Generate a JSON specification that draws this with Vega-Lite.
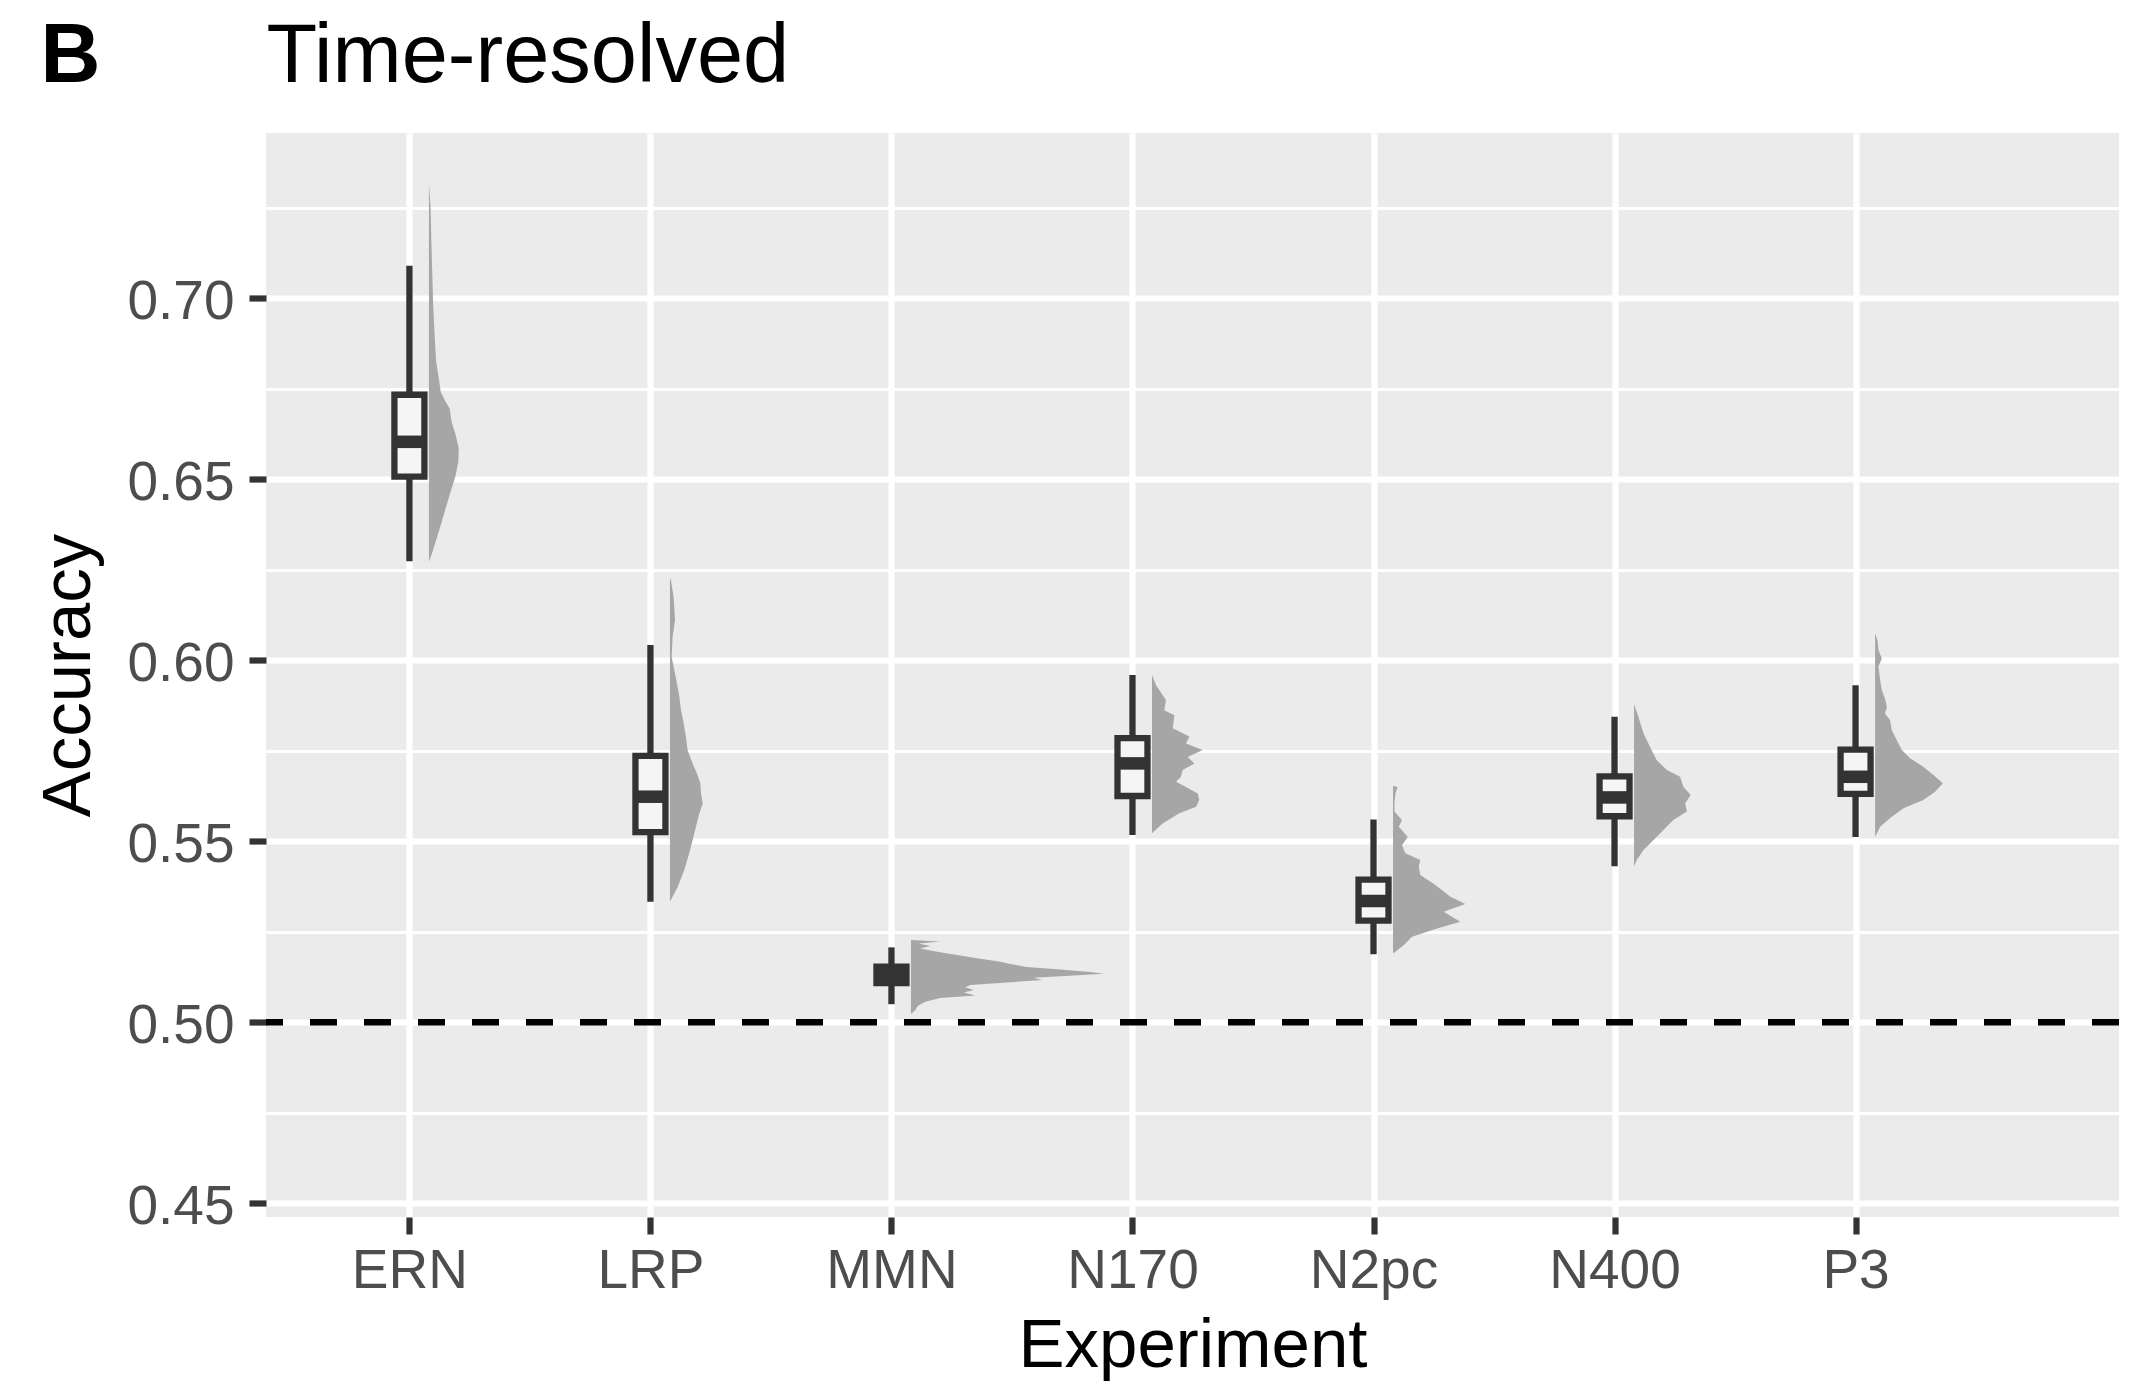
{
  "$schema": "https://vega.github.io/schema/vega-lite/v6.json",
  "width": 1853,
  "height": 1084,
  "autosize": {"type": "none"},
  "padding": {"left": 266, "top": 133, "right": 22, "bottom": 167},
  "background": "#FFFFFF",
  "config": {
    "font": "Liberation Sans",
    "view": {"fill": "#EBEBEB", "stroke": null},
    "axis": {
      "domain": false,
      "labelFlush": false,
      "labelOverlap": false,
      "labelBound": false,
      "labelColor": "#4D4D4D",
      "tickColor": "#333333",
      "titleColor": "#000000",
      "titleFontWeight": "normal"
    }
  },
  "datasets": {
    "boxes": [
      {"exp": "ERN", "lower": 0.6273, "q1": 0.6507, "median": 0.6603, "q3": 0.6733, "upper": 0.7089},
      {"exp": "LRP", "lower": 0.5333, "q1": 0.5525, "median": 0.5623, "q3": 0.5736, "upper": 0.6042},
      {"exp": "MMN", "lower": 0.5050, "q1": 0.5108, "median": 0.5132, "q3": 0.5154, "upper": 0.5207},
      {"exp": "N170", "lower": 0.5517, "q1": 0.5625, "median": 0.5715, "q3": 0.5785, "upper": 0.5959},
      {"exp": "N2pc", "lower": 0.5188, "q1": 0.5281, "median": 0.5335, "q3": 0.5394, "upper": 0.5560},
      {"exp": "N400", "lower": 0.5431, "q1": 0.5569, "median": 0.5621, "q3": 0.5679, "upper": 0.5844},
      {"exp": "P3", "lower": 0.5512, "q1": 0.5631, "median": 0.5678, "q3": 0.5753, "upper": 0.5931}
    ],
    "violins": [
      {"exp": "ERN", "acc": 0.7317, "density": 0},
      {"exp": "ERN", "acc": 0.7248, "density": 0.007},
      {"exp": "ERN", "acc": 0.7156, "density": 0.010},
      {"exp": "ERN", "acc": 0.7064, "density": 0.014},
      {"exp": "ERN", "acc": 0.6972, "density": 0.018},
      {"exp": "ERN", "acc": 0.6879, "density": 0.025},
      {"exp": "ERN", "acc": 0.6824, "density": 0.030},
      {"exp": "ERN", "acc": 0.6787, "density": 0.039},
      {"exp": "ERN", "acc": 0.6741, "density": 0.049},
      {"exp": "ERN", "acc": 0.6714, "density": 0.069},
      {"exp": "ERN", "acc": 0.6695, "density": 0.086},
      {"exp": "ERN", "acc": 0.6658, "density": 0.094},
      {"exp": "ERN", "acc": 0.6622, "density": 0.111},
      {"exp": "ERN", "acc": 0.6585, "density": 0.124},
      {"exp": "ERN", "acc": 0.6548, "density": 0.122},
      {"exp": "ERN", "acc": 0.6511, "density": 0.111},
      {"exp": "ERN", "acc": 0.6465, "density": 0.090},
      {"exp": "ERN", "acc": 0.6419, "density": 0.069},
      {"exp": "ERN", "acc": 0.6373, "density": 0.049},
      {"exp": "ERN", "acc": 0.6327, "density": 0.028},
      {"exp": "ERN", "acc": 0.6290, "density": 0.010},
      {"exp": "ERN", "acc": 0.6272, "density": 0},

      {"exp": "LRP", "acc": 0.6226, "density": 0},
      {"exp": "LRP", "acc": 0.6221, "density": 0.004},
      {"exp": "LRP", "acc": 0.6175, "density": 0.015},
      {"exp": "LRP", "acc": 0.6111, "density": 0.021},
      {"exp": "LRP", "acc": 0.6065, "density": 0.011},
      {"exp": "LRP", "acc": 0.6009, "density": 0.007},
      {"exp": "LRP", "acc": 0.5973, "density": 0.018},
      {"exp": "LRP", "acc": 0.5936, "density": 0.029},
      {"exp": "LRP", "acc": 0.5899, "density": 0.039},
      {"exp": "LRP", "acc": 0.5862, "density": 0.046},
      {"exp": "LRP", "acc": 0.5826, "density": 0.057},
      {"exp": "LRP", "acc": 0.5789, "density": 0.066},
      {"exp": "LRP", "acc": 0.5752, "density": 0.073},
      {"exp": "LRP", "acc": 0.5715, "density": 0.094},
      {"exp": "LRP", "acc": 0.5687, "density": 0.112},
      {"exp": "LRP", "acc": 0.5660, "density": 0.126},
      {"exp": "LRP", "acc": 0.5632, "density": 0.129},
      {"exp": "LRP", "acc": 0.5605, "density": 0.136},
      {"exp": "LRP", "acc": 0.5577, "density": 0.122},
      {"exp": "LRP", "acc": 0.5540, "density": 0.108},
      {"exp": "LRP", "acc": 0.5503, "density": 0.094},
      {"exp": "LRP", "acc": 0.5467, "density": 0.080},
      {"exp": "LRP", "acc": 0.5420, "density": 0.059},
      {"exp": "LRP", "acc": 0.5374, "density": 0.032},
      {"exp": "LRP", "acc": 0.5333, "density": 0},

      {"exp": "MMN", "acc": 0.5227, "density": 0},
      {"exp": "MMN", "acc": 0.5223, "density": 0.122},
      {"exp": "MMN", "acc": 0.5218, "density": 0.032},
      {"exp": "MMN", "acc": 0.5211, "density": 0.080},
      {"exp": "MMN", "acc": 0.5204, "density": 0.039},
      {"exp": "MMN", "acc": 0.5195, "density": 0.108},
      {"exp": "MMN", "acc": 0.5186, "density": 0.191},
      {"exp": "MMN", "acc": 0.5177, "density": 0.274},
      {"exp": "MMN", "acc": 0.5167, "density": 0.371},
      {"exp": "MMN", "acc": 0.5161, "density": 0.412},
      {"exp": "MMN", "acc": 0.5153, "density": 0.481},
      {"exp": "MMN", "acc": 0.5146, "density": 0.620},
      {"exp": "MMN", "acc": 0.5139, "density": 0.744},
      {"exp": "MMN", "acc": 0.5134, "density": 0.800},
      {"exp": "MMN", "acc": 0.5129, "density": 0.675},
      {"exp": "MMN", "acc": 0.5123, "density": 0.509},
      {"exp": "MMN", "acc": 0.5117, "density": 0.544},
      {"exp": "MMN", "acc": 0.5110, "density": 0.398},
      {"exp": "MMN", "acc": 0.5103, "density": 0.246},
      {"exp": "MMN", "acc": 0.5097, "density": 0.225},
      {"exp": "MMN", "acc": 0.5089, "density": 0.260},
      {"exp": "MMN", "acc": 0.5082, "density": 0.219},
      {"exp": "MMN", "acc": 0.5074, "density": 0.267},
      {"exp": "MMN", "acc": 0.5067, "density": 0.122},
      {"exp": "MMN", "acc": 0.5057, "density": 0.059},
      {"exp": "MMN", "acc": 0.5045, "density": 0.028},
      {"exp": "MMN", "acc": 0.5034, "density": 0.018},
      {"exp": "MMN", "acc": 0.5023, "density": 0},

      {"exp": "N170", "acc": 0.5959, "density": 0},
      {"exp": "N170", "acc": 0.5931, "density": 0.017},
      {"exp": "N170", "acc": 0.5890, "density": 0.058},
      {"exp": "N170", "acc": 0.5862, "density": 0.051},
      {"exp": "N170", "acc": 0.5848, "density": 0.093},
      {"exp": "N170", "acc": 0.5812, "density": 0.086},
      {"exp": "N170", "acc": 0.5789, "density": 0.155},
      {"exp": "N170", "acc": 0.5770, "density": 0.141},
      {"exp": "N170", "acc": 0.5752, "density": 0.210},
      {"exp": "N170", "acc": 0.5733, "density": 0.148},
      {"exp": "N170", "acc": 0.5715, "density": 0.176},
      {"exp": "N170", "acc": 0.5697, "density": 0.127},
      {"exp": "N170", "acc": 0.5678, "density": 0.120},
      {"exp": "N170", "acc": 0.5664, "density": 0.100},
      {"exp": "N170", "acc": 0.5650, "density": 0.141},
      {"exp": "N170", "acc": 0.5632, "density": 0.190},
      {"exp": "N170", "acc": 0.5614, "density": 0.196},
      {"exp": "N170", "acc": 0.5595, "density": 0.183},
      {"exp": "N170", "acc": 0.5577, "density": 0.113},
      {"exp": "N170", "acc": 0.5549, "density": 0.044},
      {"exp": "N170", "acc": 0.5522, "density": 0},

      {"exp": "N2pc", "acc": 0.5653, "density": 0},
      {"exp": "N2pc", "acc": 0.5650, "density": 0.019},
      {"exp": "N2pc", "acc": 0.5632, "density": 0.010},
      {"exp": "N2pc", "acc": 0.5605, "density": 0.006},
      {"exp": "N2pc", "acc": 0.5582, "density": 0.006},
      {"exp": "N2pc", "acc": 0.5559, "density": 0.037},
      {"exp": "N2pc", "acc": 0.5540, "density": 0.024},
      {"exp": "N2pc", "acc": 0.5512, "density": 0.061},
      {"exp": "N2pc", "acc": 0.5489, "density": 0.037},
      {"exp": "N2pc", "acc": 0.5467, "density": 0.051},
      {"exp": "N2pc", "acc": 0.5448, "density": 0.113},
      {"exp": "N2pc", "acc": 0.5430, "density": 0.107},
      {"exp": "N2pc", "acc": 0.5407, "density": 0.113},
      {"exp": "N2pc", "acc": 0.5379, "density": 0.176},
      {"exp": "N2pc", "acc": 0.5347, "density": 0.238},
      {"exp": "N2pc", "acc": 0.5327, "density": 0.300},
      {"exp": "N2pc", "acc": 0.5305, "density": 0.210},
      {"exp": "N2pc", "acc": 0.5278, "density": 0.279},
      {"exp": "N2pc", "acc": 0.5259, "density": 0.183},
      {"exp": "N2pc", "acc": 0.5236, "density": 0.079},
      {"exp": "N2pc", "acc": 0.5213, "density": 0.044},
      {"exp": "N2pc", "acc": 0.5190, "density": 0},

      {"exp": "N400", "acc": 0.5878, "density": 0},
      {"exp": "N400", "acc": 0.5844, "density": 0.018},
      {"exp": "N400", "acc": 0.5798, "density": 0.039},
      {"exp": "N400", "acc": 0.5761, "density": 0.066},
      {"exp": "N400", "acc": 0.5724, "density": 0.094},
      {"exp": "N400", "acc": 0.5697, "density": 0.136},
      {"exp": "N400", "acc": 0.5678, "density": 0.191},
      {"exp": "N400", "acc": 0.5650, "density": 0.205},
      {"exp": "N400", "acc": 0.5628, "density": 0.235},
      {"exp": "N400", "acc": 0.5605, "density": 0.212},
      {"exp": "N400", "acc": 0.5582, "density": 0.219},
      {"exp": "N400", "acc": 0.5559, "density": 0.163},
      {"exp": "N400", "acc": 0.5531, "density": 0.122},
      {"exp": "N400", "acc": 0.5503, "density": 0.080},
      {"exp": "N400", "acc": 0.5476, "density": 0.039},
      {"exp": "N400", "acc": 0.5448, "density": 0.011},
      {"exp": "N400", "acc": 0.5430, "density": 0},

      {"exp": "P3", "acc": 0.6074, "density": 0},
      {"exp": "P3", "acc": 0.6056, "density": 0.010},
      {"exp": "P3", "acc": 0.6028, "density": 0.014},
      {"exp": "P3", "acc": 0.6005, "density": 0.028},
      {"exp": "P3", "acc": 0.5982, "density": 0.014},
      {"exp": "P3", "acc": 0.5945, "density": 0.021},
      {"exp": "P3", "acc": 0.5917, "density": 0.028},
      {"exp": "P3", "acc": 0.5894, "density": 0.041},
      {"exp": "P3", "acc": 0.5871, "density": 0.049},
      {"exp": "P3", "acc": 0.5853, "density": 0.041},
      {"exp": "P3", "acc": 0.5835, "density": 0.062},
      {"exp": "P3", "acc": 0.5807, "density": 0.069},
      {"exp": "P3", "acc": 0.5779, "density": 0.090},
      {"exp": "P3", "acc": 0.5752, "density": 0.111},
      {"exp": "P3", "acc": 0.5729, "density": 0.145},
      {"exp": "P3", "acc": 0.5706, "density": 0.200},
      {"exp": "P3", "acc": 0.5683, "density": 0.242},
      {"exp": "P3", "acc": 0.5660, "density": 0.281},
      {"exp": "P3", "acc": 0.5637, "density": 0.249},
      {"exp": "P3", "acc": 0.5614, "density": 0.200},
      {"exp": "P3", "acc": 0.5591, "density": 0.118},
      {"exp": "P3", "acc": 0.5568, "density": 0.069},
      {"exp": "P3", "acc": 0.5540, "density": 0.021},
      {"exp": "P3", "acc": 0.5512, "density": 0}
    ]
  },
  "layer": [
    {
      "layer": [
        {
          "data": {"values": [{}]},
          "mark": {"type": "rule", "color": "#000000", "strokeWidth": 6.5, "strokeDash": [27, 27]},
          "encoding": {
            "y": {"datum": 0.5, "type": "quantitative", "title": "Accuracy",
                  "scale": {"domain": [0.44624, 0.74558], "nice": false, "zero": false}}
          }
        },
        {
          "data": {"name": "violins"},
          "transform": [
            {"calculate": "indexof(['ERN','LRP','MMN','N170','N2pc','N400','P3'], datum.exp) + 1", "as": "pos"},
            {"calculate": "datum.pos + 0.081", "as": "xl"},
            {"calculate": "datum.pos + 0.081 + datum.density", "as": "xr"}
          ],
          "mark": {"type": "area", "orient": "horizontal", "color": "#A6A6A6", "opacity": 1},
          "encoding": {
            "y": {
              "field": "acc", "type": "quantitative", "title": "Accuracy",
              "scale": {"domain": [0.44624, 0.74558], "nice": false, "zero": false},
              "axis": {
                "orient": "left",
                "values": [0.45, 0.475, 0.5, 0.525, 0.55, 0.575, 0.6, 0.625, 0.65, 0.675, 0.7, 0.725],
                "labelExpr": "round(datum.value * 1000) % 50 === 0 ? format(datum.value, '.2f') : ''",
                "grid": true,
                "gridColor": "#FFFFFF",
                "gridOpacity": 1,
                "gridWidth": {"condition": {"test": "round(datum.value * 1000) % 50 === 0", "value": 6.2}, "value": 3.1},
                "ticks": true,
                "tickSize": 17,
                "tickWidth": 6.2,
                "tickOpacity": {"condition": {"test": "round(datum.value * 1000) % 50 === 0", "value": 1}, "value": 0},
                "labelFontSize": 55,
                "labelPadding": 15,
                "labelBaseline": "alphabetic",
                "labelOffset": 20.5,
                "titleFontSize": 69,
                "titleAngle": -90,
                "titleAlign": "center",
                "titleBaseline": "alphabetic",
                "titleX": -176.7,
                "titleY": 542
              }
            },
            "x": {
              "field": "xl", "type": "quantitative", "title": "Experiment", "stack": null,
              "scale": {"domain": [0.405, 8.093], "nice": false, "zero": false},
              "axis": {
                "orient": "bottom",
                "values": [1, 2, 3, 4, 5, 6, 7],
                "labelExpr": "['ERN','LRP','MMN','N170','N2pc','N400','P3'][datum.value - 1]",
                "grid": true,
                "gridColor": "#FFFFFF",
                "gridOpacity": 1,
                "gridWidth": 6.2,
                "ticks": true,
                "tickSize": 17,
                "tickWidth": 6.2,
                "labelFontSize": 55,
                "labelAlign": "center",
                "labelBaseline": "alphabetic",
                "labelPadding": 53,
                "titleFontSize": 69,
                "titleAlign": "center",
                "titleBaseline": "alphabetic",
                "titleX": 926.5,
                "titleY": 149.5
              }
            },
            "x2": {"field": "xr"},
            "detail": {"field": "exp"}
          }
        },
        {
          "data": {"name": "boxes"},
          "transform": [
            {"calculate": "indexof(['ERN','LRP','MMN','N170','N2pc','N400','P3'], datum.exp) + 1", "as": "pos"}
          ],
          "mark": {"type": "rule", "color": "#333333", "strokeWidth": 6.3},
          "encoding": {
            "x": {"field": "pos", "type": "quantitative", "title": "Experiment",
                  "scale": {"domain": [0.405, 8.093], "nice": false, "zero": false}},
            "y": {"field": "lower", "type": "quantitative", "title": "Accuracy",
                  "scale": {"domain": [0.44624, 0.74558], "nice": false, "zero": false}},
            "y2": {"field": "upper"}
          }
        },
        {
          "data": {"name": "boxes"},
          "transform": [
            {"calculate": "indexof(['ERN','LRP','MMN','N170','N2pc','N400','P3'], datum.exp) + 1", "as": "pos"},
            {"calculate": "datum.pos - 0.0622", "as": "bl"},
            {"calculate": "datum.pos + 0.0622", "as": "br"}
          ],
          "mark": {"type": "rect", "fill": "#F5F5F5", "stroke": "#333333", "strokeWidth": 6.3, "opacity": 1},
          "encoding": {
            "x": {"field": "bl", "type": "quantitative", "title": "Experiment",
                  "scale": {"domain": [0.405, 8.093], "nice": false, "zero": false}},
            "x2": {"field": "br"},
            "y": {"field": "q1", "type": "quantitative", "title": "Accuracy",
                  "scale": {"domain": [0.44624, 0.74558], "nice": false, "zero": false}},
            "y2": {"field": "q3"}
          }
        }
      ]
    },
    {
      "data": {"name": "boxes"},
      "transform": [
        {"calculate": "indexof(['ERN','LRP','MMN','N170','N2pc','N400','P3'], datum.exp) + 1", "as": "pos"},
        {"calculate": "datum.pos - 0.0622", "as": "bl"},
        {"calculate": "datum.pos + 0.0622", "as": "br"}
      ],
      "mark": {"type": "rule", "color": "#333333", "strokeWidth": 12.5, "strokeCap": "butt"},
      "encoding": {
        "x": {
          "field": "bl", "type": "quantitative", "title": "Time-resolved",
          "scale": {"domain": [0.405, 8.093], "nice": false, "zero": false},
          "axis": {
            "orient": "top",
            "labels": false, "ticks": false, "grid": false, "domain": false,
            "titleFontSize": 83,
            "titleFontWeight": "normal",
            "titleColor": "#000000",
            "titleAngle": 0,
            "titleAlign": "left",
            "titleBaseline": "alphabetic",
            "titleX": 0,
            "titleY": -52
          }
        },
        "x2": {"field": "br"},
        "y": {
          "field": "median", "type": "quantitative", "title": "B",
          "scale": {"domain": [0.44624, 0.74558], "nice": false, "zero": false},
          "axis": {
            "orient": "right",
            "labels": false, "ticks": false, "grid": false, "domain": false,
            "titleFontSize": 83,
            "titleFontWeight": "bold",
            "titleColor": "#000000",
            "titleAngle": 0,
            "titleAlign": "left",
            "titleBaseline": "alphabetic",
            "titleX": -2079,
            "titleY": -51.5
          }
        }
      }
    }
  ],
  "resolve": {"axis": {"x": "independent", "y": "independent"}}
}
